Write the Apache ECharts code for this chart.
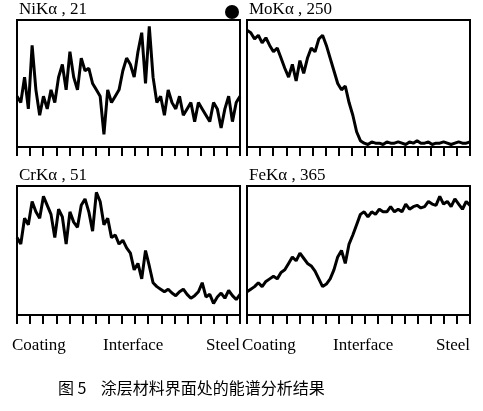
<!DOCTYPE html>
<html>
<head>
<meta charset="utf-8">
<script src="https://cdn.jsdelivr.net/npm/echarts@6/dist/echarts.min.js"></script>
<style>html,body{margin:0;background:#fff}#c{width:483px;height:411px}</style>
</head>
<body>
<div id="c"></div>
<script>
// relative intensity, 0 = bottom of box, 100 = top
const niData = [40,35,55,30,80,45,25,40,30,45,35,55,65,45,75,55,45,70,60,62,50,45,40,10,45,35,40,45,60,70,65,55,75,90,50,95,55,35,40,25,45,35,30,40,25,30,35,20,35,30,25,20,35,30,15,30,40,20,35,40];
const moData = [92,90,85,88,82,86,80,75,78,70,62,55,65,52,68,58,70,78,75,85,88,80,70,60,50,45,48,35,25,12,5,3,2,4,3,3,2,4,3,3,4,3,2,4,3,5,3,3,4,2,3,3,4,3,2,3,4,3,3,4];
const crData = [60,55,75,70,88,80,75,92,85,78,60,82,76,55,80,72,68,85,90,80,65,95,88,70,75,60,62,55,58,52,48,35,40,28,50,38,25,22,20,18,20,17,15,18,20,16,13,15,18,25,14,16,9,14,17,13,19,15,12,16];
const feData = [18,20,22,25,22,26,28,30,28,33,35,40,45,42,48,44,40,38,34,28,22,24,28,35,45,50,40,55,62,70,78,80,76,80,78,82,80,80,84,80,82,80,86,82,84,85,83,84,88,86,85,92,86,88,84,90,86,82,88,85];
const panelTitles = ['NiKα , 21', 'MoKα , 250', 'CrKα , 51', 'FeKα , 365'];
const xLabels = ['Coating', 'Interface', 'Steel'];

const boxes = [
  {left: 17, top: 20, width: 223, height: 127},
  {left: 247, top: 20, width: 223, height: 127},
  {left: 17, top: 186, width: 223, height: 129},
  {left: 247, top: 186, width: 223, height: 129}
];
const series = [niData, moData, crData, feData];

const chart = echarts.init(document.getElementById('c'));
const toXY = d => d.map((v, i) => [i * 17 / (d.length - 1), v]);
const font = '"Liberation Serif", "DejaVu Serif", serif';

const graphic = [];
boxes.forEach((b, i) => {
  graphic.push({type: 'text', left: b.left + 2, top: b.top - 19,
    style: {text: panelTitles[i], font: '17px ' + font, fill: '#000'}});
});
[boxes[2], boxes[3]].forEach(b => {
  graphic.push({type: 'text', left: b.left - 5, top: 337, style: {text: xLabels[0], font: '17px ' + font, fill: '#000'}});
  graphic.push({type: 'text', left: b.left + 86, top: 337, style: {text: xLabels[1], font: '17px ' + font, fill: '#000'}});
  graphic.push({type: 'text', left: b.left + 189, top: 337, style: {text: xLabels[2], font: '17px ' + font, fill: '#000'}});
});
graphic.push({type: 'circle', shape: {cx: 232, cy: 12, r: 7}, style: {fill: '#000'}});
graphic.push({type: 'text', left: 58, top: 380,
  style: {text: '图 5    涂层材料界面处的能谱分析结果', font: '16px "Noto Sans CJK SC"', fill: '#000'}});

chart.setOption({
  animation: false,
  grid: boxes.map(b => Object.assign({show: true, borderColor: '#000', borderWidth: 2}, b)),
  xAxis: boxes.map((b, i) => ({
    gridIndex: i, type: 'value', min: 0, max: 17, interval: 1,
    axisLine: {show: true, lineStyle: {color: '#000', width: 2}},
    axisTick: {show: true, length: 9, inside: false, lineStyle: {color: '#000', width: 2}},
    axisLabel: {show: false}, splitLine: {show: false}
  })),
  yAxis: boxes.map((b, i) => ({
    gridIndex: i, type: 'value', min: 0, max: 100,
    axisLine: {show: false}, axisTick: {show: false}, axisLabel: {show: false}, splitLine: {show: false}
  })),
  series: series.map((d, i) => ({
    type: 'line', xAxisIndex: i, yAxisIndex: i, data: toXY(d),
    showSymbol: false, lineStyle: {color: '#000', width: 3}
  })),
  graphic: graphic
});
</script>
</body>
</html>
